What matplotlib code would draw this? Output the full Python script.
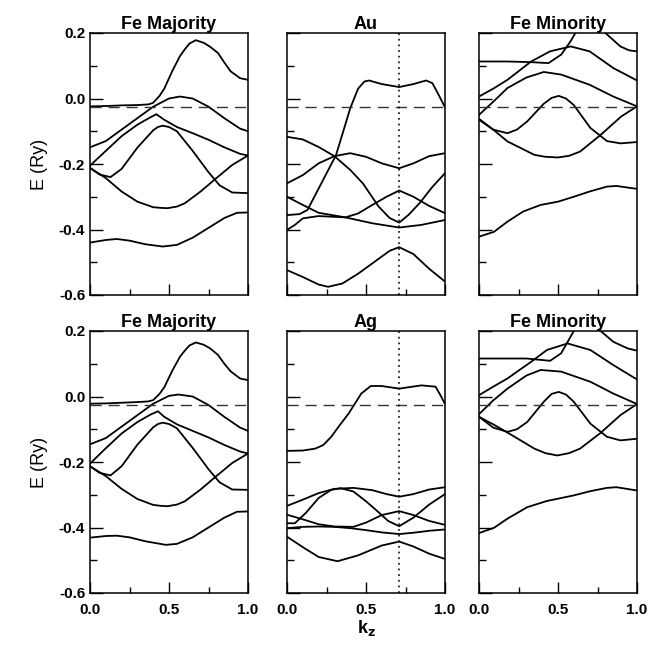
import matplotlib
matplotlib.use("Agg")
import matplotlib.pyplot as plt
from matplotlib.ticker import MultipleLocator

plt.rcParams['font.family'] = ['Liberation Sans', 'DejaVu Sans']

# Fermi level and special k point
e_fermi = -0.025
k_special = 0.71

titles_top = ['Fe Majority', 'Au', 'Fe Minority']
titles_bottom = ['Fe Majority', 'Ag', 'Fe Minority']

# ---- Fe majority (top row, Fe/Au) : list of (k, E) bands
fe_maj_au = [
    ([0, 0.1, 0.17, 0.25, 0.35, 0.46, 0.55, 0.65, 0.75, 0.85, 0.93, 1.0],
     [-0.44, -0.432, -0.429, -0.434, -0.445, -0.452, -0.447, -0.425, -0.395, -0.365, -0.349, -0.348]),
    ([0, 0.1, 0.2, 0.3, 0.4, 0.45, 0.49, 0.55, 0.6, 0.7, 0.8, 0.9, 1.0],
     [-0.212, -0.243, -0.284, -0.315, -0.332, -0.334, -0.335, -0.33, -0.32, -0.284, -0.243, -0.203, -0.174]),
    ([0, 0.06, 0.13, 0.2, 0.3, 0.4, 0.43, 0.46, 0.5, 0.55, 0.65, 0.75, 0.82, 0.9, 1.0],
     [-0.212, -0.232, -0.24, -0.215, -0.15, -0.097, -0.087, -0.083, -0.087, -0.1, -0.16, -0.225, -0.265, -0.287, -0.289]),
    ([0, 0.1, 0.2, 0.3, 0.38, 0.42, 0.47, 0.55, 0.65, 0.75, 0.85, 0.95, 1.0],
     [-0.205, -0.16, -0.115, -0.08, -0.058, -0.048, -0.065, -0.087, -0.106, -0.126, -0.149, -0.169, -0.174]),
    ([0, 0.1, 0.2, 0.3, 0.4, 0.5, 0.57, 0.65, 0.75, 0.85, 0.95, 1.0],
     [-0.149, -0.13, -0.095, -0.06, -0.025, 0.0, 0.006, 0.0, -0.025, -0.06, -0.092, -0.1]),
    ([0, 0.1, 0.2, 0.3, 0.37, 0.4, 0.44, 0.47, 0.52, 0.57, 0.6, 0.63, 0.67, 0.72, 0.76, 0.81, 0.85, 0.89, 0.95, 1.0],
     [-0.024, -0.023, -0.021, -0.02, -0.018, -0.013, 0.008, 0.03, 0.083, 0.13, 0.15, 0.168, 0.178, 0.17, 0.158, 0.139, 0.11, 0.083, 0.062, 0.057]),
]

# ---- Au (top middle)
au = [
    ([0, 0.1, 0.2, 0.26, 0.35, 0.45, 0.55, 0.65, 0.71, 0.8, 0.9, 1.0],
     [-0.524, -0.545, -0.568, -0.575, -0.565, -0.535, -0.5, -0.465, -0.454, -0.475, -0.52, -0.559]),
    ([0, 0.1, 0.2, 0.37, 0.54, 0.71, 0.85, 1.0],
     [-0.30, -0.325, -0.349, -0.363, -0.381, -0.394, -0.386, -0.371]),
    ([0, 0.05, 0.1, 0.2, 0.37, 0.45, 0.54, 0.63, 0.71, 0.8, 0.9, 1.0],
     [-0.401, -0.386, -0.366, -0.359, -0.363, -0.351, -0.325, -0.3, -0.281, -0.3, -0.328, -0.35]),
    ([0, 0.08, 0.13, 0.2, 0.31, 0.35, 0.4, 0.45, 0.49, 0.52, 0.6, 0.71, 0.8, 0.88, 0.92, 0.96, 1.0],
     [-0.356, -0.353, -0.34, -0.275, -0.173, -0.11, -0.03, 0.03, 0.052, 0.055, 0.044, 0.035, 0.044, 0.055, 0.047, 0.011, -0.027]),
    ([0, 0.1, 0.2, 0.3, 0.4, 0.48, 0.58, 0.65, 0.71, 0.77, 0.84, 0.92, 1.0],
     [-0.117, -0.125, -0.148, -0.176, -0.218, -0.259, -0.33, -0.365, -0.379, -0.355, -0.319, -0.27, -0.228]),
    ([0, 0.1, 0.2, 0.3, 0.4, 0.5, 0.6, 0.71, 0.8, 0.9, 1.0],
     [-0.259, -0.234, -0.198, -0.176, -0.167, -0.178, -0.198, -0.213, -0.198, -0.176, -0.167]),
]

# ---- Fe minority (top right)
fe_min_au = [
    ([0, 0.095, 0.18, 0.28, 0.39, 0.5, 0.6, 0.7, 0.81, 0.87, 1.0],
     [-0.422, -0.407, -0.376, -0.345, -0.325, -0.315, -0.3, -0.284, -0.269, -0.267, -0.276]),
    ([0, 0.09, 0.18, 0.35, 0.42, 0.5, 0.57, 0.64, 0.77, 0.9, 1.0],
     [-0.062, -0.095, -0.131, -0.172, -0.178, -0.18, -0.175, -0.162, -0.111, -0.055, -0.024]),
    ([0, 0.09, 0.18, 0.24, 0.305, 0.41, 0.46, 0.505, 0.55, 0.6, 0.705, 0.81, 0.895, 1.0],
     [-0.065, -0.095, -0.106, -0.095, -0.07, -0.016, 0.002, 0.008, 0.0, -0.02, -0.09, -0.13, -0.137, -0.133]),
    ([0, 0.09, 0.18, 0.3, 0.41, 0.52, 0.7, 0.85, 1.0],
     [-0.05, -0.01, 0.032, 0.064, 0.081, 0.073, 0.042, 0.006, -0.024]),
    ([0, 0.09, 0.18, 0.33, 0.45, 0.58, 0.7, 0.85, 1.0],
     [0.006, 0.03, 0.057, 0.113, 0.144, 0.159, 0.144, 0.093, 0.055]),
    ([0, 0.18, 0.33, 0.44, 0.52, 0.58, 0.61, 0.7, 0.8, 0.895, 0.95, 1.0],
     [0.113, 0.113, 0.111, 0.108, 0.134, 0.175, 0.2, 0.24, 0.2, 0.159, 0.147, 0.144]),
]

# ---- Fe majority (bottom row, Fe/Ag)
fe_maj_ag = [
    ([0, 0.1, 0.17, 0.25, 0.35, 0.48, 0.55, 0.65, 0.75, 0.85, 0.93, 1.0],
     [-0.431, -0.426, -0.425, -0.43, -0.442, -0.453, -0.45, -0.43, -0.4, -0.37, -0.352, -0.351]),
    ([0, 0.1, 0.2, 0.3, 0.4, 0.45, 0.49, 0.55, 0.6, 0.7, 0.8, 0.9, 1.0],
     [-0.213, -0.243, -0.282, -0.313, -0.331, -0.334, -0.335, -0.33, -0.32, -0.284, -0.243, -0.203, -0.174]),
    ([0, 0.06, 0.13, 0.2, 0.3, 0.4, 0.43, 0.46, 0.5, 0.55, 0.65, 0.75, 0.82, 0.9, 1.0],
     [-0.213, -0.233, -0.241, -0.213, -0.147, -0.094, -0.084, -0.08, -0.084, -0.097, -0.157, -0.222, -0.262, -0.284, -0.285]),
    ([0, 0.1, 0.2, 0.3, 0.38, 0.43, 0.47, 0.55, 0.65, 0.75, 0.85, 0.95, 1.0],
     [-0.205, -0.158, -0.113, -0.078, -0.056, -0.045, -0.062, -0.085, -0.105, -0.125, -0.148, -0.168, -0.174]),
    ([0, 0.1, 0.2, 0.3, 0.4, 0.5, 0.56, 0.65, 0.75, 0.85, 0.95, 1.0],
     [-0.146, -0.127, -0.092, -0.057, -0.022, 0.002, 0.006, 0.0, -0.026, -0.062, -0.095, -0.105]),
    ([0, 0.1, 0.2, 0.3, 0.37, 0.4, 0.44, 0.47, 0.52, 0.57, 0.6, 0.63, 0.67, 0.72, 0.76, 0.81, 0.85, 0.89, 0.95, 1.0],
     [-0.022, -0.021, -0.019, -0.017, -0.015, -0.011, 0.008, 0.028, 0.078, 0.122, 0.14, 0.156, 0.165, 0.158, 0.147, 0.127, 0.1, 0.077, 0.055, 0.05]),
]

# ---- Ag (bottom middle)
ag = [
    ([0, 0.1, 0.2, 0.32, 0.45, 0.6, 0.71, 0.8, 0.9, 1.0],
     [-0.428, -0.46, -0.49, -0.503, -0.485, -0.455, -0.443, -0.458, -0.48, -0.496]),
    ([0, 0.1, 0.2, 0.3, 0.4, 0.5, 0.6, 0.71, 0.8, 0.9, 1.0],
     [-0.402, -0.398, -0.397, -0.398, -0.402, -0.408, -0.415, -0.42, -0.416, -0.41, -0.406]),
    ([0, 0.1, 0.2, 0.3, 0.42, 0.5, 0.6, 0.71, 0.8, 0.9, 1.0],
     [-0.361, -0.375, -0.39, -0.397, -0.398, -0.385, -0.362, -0.35, -0.362, -0.38, -0.392]),
    ([0, 0.05, 0.12, 0.2, 0.28, 0.34, 0.42, 0.5, 0.56, 0.64, 0.71, 0.8, 0.9, 1.0],
     [-0.387, -0.387, -0.355, -0.31, -0.285, -0.28, -0.29, -0.32, -0.345, -0.38, -0.396, -0.37, -0.33, -0.298]),
    ([0, 0.1, 0.2, 0.3, 0.42, 0.54, 0.63, 0.71, 0.8, 0.9, 1.0],
     [-0.334, -0.315, -0.295, -0.282, -0.279, -0.286, -0.298, -0.306, -0.298, -0.284, -0.277]),
    ([0, 0.1, 0.18, 0.23, 0.28, 0.33, 0.39, 0.47, 0.53, 0.6, 0.71, 0.85, 0.94, 0.97, 1.0],
     [-0.166, -0.165, -0.159, -0.148, -0.123, -0.09, -0.052, 0.009, 0.032, 0.032, 0.024, 0.034, 0.03, 0.005, -0.023]),
]

# ---- Fe minority (bottom right)
fe_min_ag = [
    ([0, 0.095, 0.18, 0.305, 0.43, 0.6, 0.705, 0.81, 0.87, 1.0],
     [-0.417, -0.401, -0.373, -0.338, -0.319, -0.302, -0.289, -0.279, -0.277, -0.287]),
    ([0, 0.09, 0.18, 0.35, 0.42, 0.495, 0.57, 0.64, 0.77, 0.895, 1.0],
     [-0.062, -0.085, -0.11, -0.159, -0.173, -0.18, -0.173, -0.159, -0.111, -0.057, -0.023]),
    ([0, 0.09, 0.18, 0.24, 0.305, 0.41, 0.46, 0.505, 0.55, 0.6, 0.705, 0.81, 0.895, 1.0],
     [-0.062, -0.095, -0.108, -0.1, -0.078, -0.016, 0.008, 0.014, 0.006, -0.016, -0.083, -0.123, -0.134, -0.129]),
    ([0, 0.09, 0.18, 0.3, 0.39, 0.52, 0.705, 0.85, 1.0],
     [-0.054, -0.012, 0.024, 0.064, 0.081, 0.076, 0.045, 0.009, -0.023]),
    ([0, 0.09, 0.18, 0.33, 0.43, 0.56, 0.705, 0.85, 1.0],
     [0.004, 0.03, 0.055, 0.106, 0.142, 0.162, 0.142, 0.096, 0.052]),
    ([0, 0.3, 0.45, 0.52, 0.58, 0.6, 0.7, 0.77, 0.85, 0.94, 1.0],
     [0.116, 0.116, 0.109, 0.132, 0.183, 0.2, 0.24, 0.2, 0.167, 0.147, 0.14]),
]

panels = [[fe_maj_au, au, fe_min_au], [fe_maj_ag, ag, fe_min_ag]]
titles = [titles_top, titles_bottom]

fig = plt.figure(figsize=(6.51, 6.47), dpi=100)

lefts = [90 / 651, 287 / 651, 479 / 651]
bottoms = [1 - 295 / 647, 1 - 593 / 647]
w = 158 / 651
h = 262 / 647

for r in range(2):
    for c in range(3):
        ax = fig.add_axes([lefts[c], bottoms[r], w, h])
        for k, e in panels[r][c]:
            ax.plot(k, e, color='black', lw=1.3, solid_joinstyle='round')
        ax.axhline(e_fermi, color='#333333', lw=1.0, dashes=(8, 5))
        if c == 1:
            ax.axvline(k_special, color='black', lw=1.1, ls=(0, (1.2, 2.5)))
        ax.set_xlim(0, 1)
        ax.set_ylim(-0.6, 0.2)
        ax.yaxis.set_major_locator(MultipleLocator(0.2))
        ax.yaxis.set_minor_locator(MultipleLocator(0.1))
        ax.xaxis.set_major_locator(MultipleLocator(0.5))
        ax.xaxis.set_minor_locator(MultipleLocator(0.25))
        ax.tick_params(which='both', direction='in', top=False, right=False,
                       width=1.0, labelsize=11)
        ax.tick_params(which='major', axis='y', length=9)
        ax.tick_params(which='minor', axis='y', length=5)
        ax.tick_params(which='major', axis='x', length=8)
        ax.tick_params(which='minor', axis='x', length=4.5)
        for sp in ax.spines.values():
            sp.set_linewidth(1.1)
        ax.set_title(titles[r][c], fontsize=13, fontweight='bold', pad=3)
        if c == 0:
            ax.set_yticks([-0.6, -0.4, -0.2, 0.0, 0.2])
            ax.set_yticklabels(['-0.6', '-0.4', '-0.2', '0.0', '0.2'], fontweight='bold')
            ax.set_ylabel('E (Ry)', fontsize=13, labelpad=8)
        else:
            ax.set_yticklabels([])
        if r == 1:
            ax.set_xticks([0.0, 0.5, 1.0])
            ax.set_xticklabels(['0.0', '0.5', '1.0'], fontweight='bold')
            ax.tick_params(axis='x', pad=7)
            if c == 1:
                ax.set_xlabel('k$_\\mathbf{z}$', fontsize=13, fontweight='bold', labelpad=1)
        else:
            ax.set_xticklabels([])

fig.savefig('out.png', dpi=100)
